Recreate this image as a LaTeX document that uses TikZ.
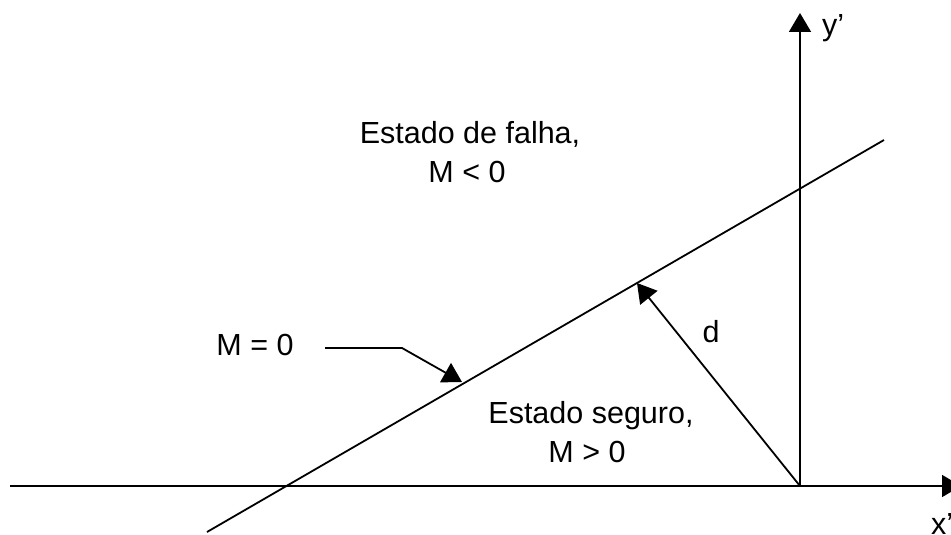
\documentclass[tikz,border=0pt]{standalone}
\usepackage{fontspec}
\setmainfont{Liberation Sans}
\usetikzlibrary{arrows.meta}
\begin{document}
\begin{tikzpicture}[x=1pt,y=-1pt,
  ln/.style={line width=1.8pt,black},
  arr/.style={ln,-{Triangle[length=19pt,width=22pt]}},
  lbl/.style={font=\fontsize{30.5}{36}\selectfont,inner sep=0pt,anchor=base}]
\useasboundingbox (0,0) rectangle (951,535);
\coordinate (O) at (800,486);
\coordinate (ytip) at (800,13);
\coordinate (xstart) at (10,486);
\coordinate (xtip) at (961,486);
\coordinate (L1) at (207,532);
\coordinate (L2) at (884,140);
\coordinate (dtip) at (637,283);
\coordinate (m1) at (325,348);
\coordinate (m2) at (402,348);
\coordinate (mtip) at (462,382);
\draw[ln] (L1) -- (L2);
\draw[arr] (O) -- (ytip);
\draw[arr] (xstart) -- (xtip);
\draw[arr] (O) -- (dtip);
\draw[arr] (m1) -- (m2) -- (mtip);
\node[lbl,anchor=base west] (yl) at (822,36) {y’};
\node[lbl,anchor=base west] (xl) at (931,534) {x’};
\node[lbl] (ml) at (255,355) {M = 0};
\node[lbl] (dl) at (711,342) {d};
\node[lbl] (fail1) at (470,143) {Estado de falha,};
\node[lbl] (fail2) at (467,182) {M < 0};
\node[lbl] (safe1) at (591,423) {Estado seguro,};
\node[lbl] (safe2) at (587,462) {M > 0};
\end{tikzpicture}
\end{document}
